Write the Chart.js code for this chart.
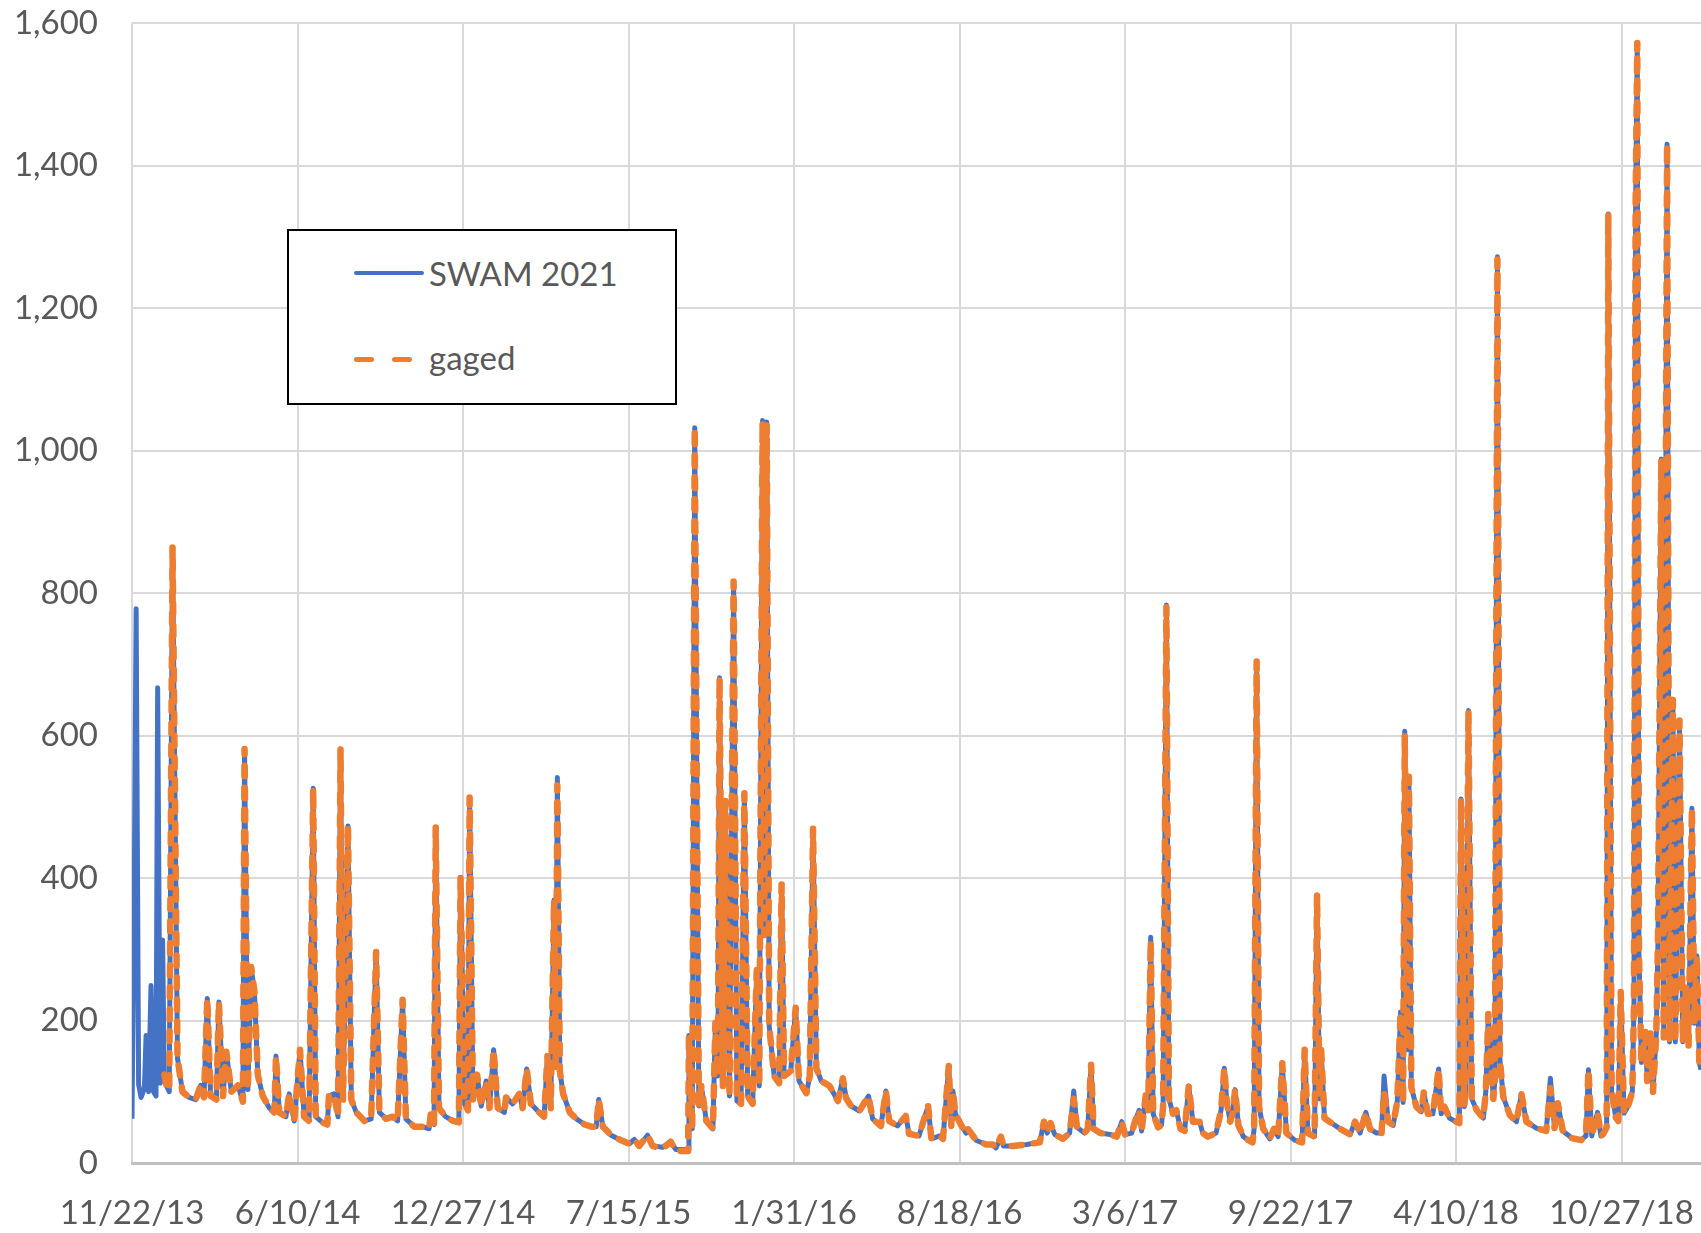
<!DOCTYPE html>
<html>
<head>
<meta charset="utf-8">
<script src="https://cdn.jsdelivr.net/npm/chart.js@4.4.1/dist/chart.umd.min.js"></script>
<style>
  body { margin: 0; background: #fff; }
  #wrap { position: relative; width: 1701px; height: 1233px; }
  .legend {
    position: absolute; left: 287px; top: 229px; width: 386px; height: 172px;
    border: 2px solid #000; background: #fff;
    font-family: Lato, sans-serif; font-size: 33px; color: #595959;
  }
  .legend .txt { position: absolute; left: 140px; height: 40px; line-height: 40px; white-space: nowrap; }
  .legend .blue { position: absolute; left: 65px; width: 70px; height: 4px; background: #4472C4; border-radius: 2px; }
  .legend .dash { position: absolute; width: 20px; height: 5px; background: #ED7D31; border-radius: 3px; }
</style>
</head>
<body>
<div id="wrap">
  <canvas id="flowChart" width="1701" height="1233"></canvas>
  <div class="legend">
    <div class="blue" style="top:40px"></div>
    <div class="txt" style="top:22px">SWAM 2021</div>
    <div class="dash" style="left:65px; top:126px"></div>
    <div class="dash" style="left:103px; top:126px"></div>
    <div class="txt" style="top:106px">gaged</div>
  </div>
</div>
<script>
// x = days since 11/22/13, y = flow
const tickLabels = ['11/22/13', '6/10/14', '12/27/14', '7/15/15', '1/31/16', '8/18/16', '3/6/17', '9/22/17', '4/10/18', '10/27/18'];
const tickStep = 200;
const lastDay = 1896;
const yTickValues = [0, 200, 400, 600, 800, 1000, 1200, 1400, 1600];

const swam = [
  [0,62],[3,420],[5,778],[8,110],[11,92],[15,105],[17,179],[20,100],[23,249],[26,100],[29,94],[31,667],[34,112],[37,313],[39,115],[45,100],
  [49,864],[55,147],[61,100],[69,92],[77,89],[83,109],[87,92],[91,231],[95,94],[102,89],[105,226],[110,94],[114,156],[120,100],[128,109],
  [134,86],[136,581],[140,103],[144,275],[148,240],[152,124],[158,94],[166,77],[172,71],[174,150],[178,71],[186,65],[190,97],[196,59],
  [203,159],[208,65],[214,59],[219,526],[222,65],[230,57],[236,54],[238,94],[244,97],[249,65],[252,581],[255,89],[261,473],[265,89],
  [271,71],[281,59],[289,62],[295,296],[299,71],[307,62],[315,65],[321,59],[327,229],[331,62],[341,51],[351,51],[359,48],[361,68],
  [365,54],[367,471],[371,77],[379,65],[388,59],[395,57],[397,401],[402,83],[406,74],[408,513],[412,89],[417,124],[422,80],[428,115],
  [432,77],[437,159],[442,77],[450,71],[452,92],[460,83],[468,97],[472,77],[477,132],[482,83],[492,71],[498,65],[502,150],[506,77],
  [510,369],[512,135],[514,541],[517,129],[521,97],[529,71],[537,62],[547,54],[555,51],[561,51],[564,89],[569,51],[579,39],[589,33],
  [601,27],[607,33],[613,24],[623,39],[629,24],[641,22],[651,30],[657,19],[672,19],[673,179],[677,48],[680,1032],[685,80],[688,108],
  [694,59],[702,48],[705,197],[708,122],[710,681],[714,108],[717,508],[722,94],[727,816],[731,87],[736,83],[740,519],[744,94],[750,83],
  [755,271],[758,108],[762,1042],[764,320],[767,1040],[770,193],[776,122],[782,112],[785,391],[788,122],[796,129],[802,218],[806,115],
  [815,98],[819,122],[823,469],[827,133],[833,115],[843,108],[853,87],[859,119],[863,91],[869,80],[879,73],[890,94],[895,62],[905,52],
  [911,101],[915,59],[925,52],[935,66],[939,41],[951,38],[962,80],[966,34],[976,38],[980,34],[987,136],[990,52],[992,101],[995,69],
  [1002,53],[1008,42],[1010,48],[1020,32],[1032,26],[1040,26],[1044,21],[1050,37],[1053,24],[1065,24],[1081,26],[1097,29],[1102,58],
  [1106,42],[1110,56],[1115,40],[1125,34],[1133,42],[1138,101],[1142,50],[1151,42],[1155,48],[1159,138],[1162,48],[1170,42],[1182,40],
  [1190,37],[1196,58],[1200,40],[1208,42],[1212,58],[1217,74],[1220,45],[1225,95],[1228,74],[1231,317],[1234,69],[1240,50],[1244,53],
  [1246,79],[1250,783],[1253,90],[1258,69],[1262,74],[1267,48],[1272,45],[1277,108],[1282,58],[1290,58],[1294,42],[1300,37],[1310,42],
  [1316,74],[1320,133],[1323,85],[1327,58],[1330,69],[1333,103],[1337,53],[1343,37],[1349,32],[1354,29],[1356,48],[1359,704],[1362,79],
  [1367,48],[1375,34],[1380,48],[1385,37],[1390,140],[1395,42],[1405,32],[1414,29],[1417,159],[1421,42],[1429,37],[1432,376],[1435,90],
  [1437,159],[1441,63],[1447,58],[1460,48],[1472,40],[1478,58],[1484,42],[1491,71],[1496,48],[1504,42],[1510,42],[1513,122],[1518,58],
  [1524,53],[1529,87],[1533,212],[1536,85],[1538,606],[1541,159],[1543,542],[1546,106],[1552,79],[1558,72],[1561,99],[1566,69],[1572,69],
  [1579,132],[1582,69],[1586,79],[1592,63],[1600,58],[1604,56],[1606,511],[1610,79],[1612,95],[1615,635],[1619,90],[1625,74],[1633,63],
  [1636,101],[1639,209],[1645,90],[1647,116],[1650,1272],[1653,145],[1657,93],[1665,67],[1673,58],[1679,97],[1685,58],[1697,49],[1709,45],
  [1714,119],[1719,49],[1723,84],[1729,45],[1740,35],[1751,32],[1757,38],[1760,131],[1764,38],[1771,71],[1775,38],[1778,41],[1782,50],
  [1784,1332],[1788,100],[1793,64],[1796,59],[1799,240],[1803,70],[1808,80],[1813,100],[1815,223],[1817,1345],[1819,1572],[1821,295],
  [1824,141],[1829,184],[1831,115],[1835,182],[1838,100],[1842,182],[1844,312],[1848,988],[1851,176],[1855,1430],[1858,170],[1862,650],
  [1865,170],[1870,621],[1874,170],[1878,246],[1881,165],[1885,498],[1888,196],[1891,291],[1894,140],[1896,131]
];

// gaged record starts a little later
const gaged = [
  [39,124],[42,106],[45,102],
  [49,864],[55,147],[61,100],[69,92],[77,89],[83,109],[87,92],[91,231],[95,94],[102,89],[105,226],[110,94],[114,156],[120,100],[128,109],
  [134,86],[136,581],[140,103],[144,275],[148,240],[152,124],[158,94],[166,77],[172,71],[174,150],[178,71],[186,65],[190,97],[196,59],
  [203,159],[208,65],[214,59],[219,526],[222,65],[230,57],[236,54],[238,94],[244,97],[249,65],[252,581],[255,89],[261,473],[265,89],
  [271,71],[281,59],[289,62],[295,296],[299,71],[307,62],[315,65],[321,59],[327,229],[331,62],[341,51],[351,51],[359,48],[361,68],
  [365,54],[367,471],[371,77],[379,65],[388,59],[395,57],[397,401],[402,83],[406,74],[408,513],[412,89],[417,124],[422,80],[428,115],
  [432,77],[437,159],[442,77],[450,71],[452,92],[460,83],[468,97],[472,77],[477,132],[482,83],[492,71],[498,65],[502,150],[506,77],
  [510,369],[512,135],[514,530],[517,129],[521,97],[529,71],[537,62],[547,54],[555,51],[561,51],[564,89],[569,51],[579,39],[589,33],
  [601,27],[607,33],[613,24],[623,39],[629,24],[641,20],[651,30],[657,17],[672,17],[673,179],[677,48],[680,1032],[685,80],[688,108],
  [694,59],[702,48],[705,197],[708,122],[710,681],[714,108],[717,508],[722,94],[727,816],[731,87],[736,83],[740,519],[744,94],[750,83],
  [755,271],[758,108],[762,1040],[764,320],[767,1035],[770,193],[776,122],[782,112],[785,391],[788,122],[796,129],[802,218],[806,115],
  [815,98],[819,122],[823,469],[827,133],[833,115],[843,108],[853,87],[859,119],[863,91],[869,80],[879,73],[890,94],[895,62],[905,52],
  [911,101],[915,59],[925,52],[935,66],[939,41],[951,38],[962,80],[966,34],[976,38],[980,34],[987,136],[990,52],[992,101],[995,69],
  [1002,53],[1008,42],[1010,48],[1020,32],[1032,26],[1040,26],[1044,21],[1050,37],[1053,24],[1065,24],[1081,26],[1097,29],[1102,58],
  [1106,42],[1110,56],[1115,40],[1125,34],[1133,42],[1138,90],[1142,50],[1151,42],[1155,48],[1159,138],[1162,48],[1170,42],[1182,40],
  [1190,37],[1196,58],[1200,40],[1208,42],[1212,58],[1217,74],[1220,45],[1225,95],[1228,74],[1231,312],[1234,69],[1240,50],[1244,53],
  [1246,79],[1250,780],[1253,90],[1258,69],[1262,74],[1267,48],[1272,45],[1277,108],[1282,58],[1290,58],[1294,42],[1300,37],[1310,42],
  [1316,74],[1320,133],[1323,85],[1327,58],[1330,69],[1333,103],[1337,53],[1343,37],[1349,32],[1354,29],[1356,48],[1359,704],[1362,79],
  [1367,48],[1375,34],[1380,48],[1385,37],[1390,140],[1395,42],[1405,32],[1414,29],[1417,159],[1421,42],[1429,37],[1432,376],[1435,90],
  [1437,159],[1441,63],[1447,58],[1460,48],[1472,40],[1478,58],[1484,42],[1491,71],[1496,48],[1504,42],[1510,42],[1513,100],[1518,58],
  [1524,53],[1529,87],[1533,212],[1536,85],[1538,600],[1541,159],[1543,542],[1546,106],[1552,79],[1558,72],[1561,99],[1566,69],[1572,69],
  [1579,132],[1582,69],[1586,79],[1592,63],[1600,58],[1604,56],[1606,511],[1610,79],[1612,145],[1615,635],[1619,90],[1625,74],[1633,63],
  [1636,101],[1639,209],[1645,90],[1647,116],[1650,1268],[1653,145],[1657,93],[1665,67],[1673,58],[1679,97],[1685,58],[1697,49],[1709,45],
  [1714,105],[1719,49],[1723,84],[1729,45],[1740,35],[1751,32],[1757,38],[1760,131],[1764,38],[1771,71],[1775,38],[1778,41],[1782,50],
  [1784,1332],[1788,100],[1793,64],[1796,59],[1799,240],[1803,70],[1808,80],[1813,100],[1815,223],[1817,1345],[1819,1572],[1821,295],
  [1824,141],[1829,184],[1831,115],[1835,182],[1838,100],[1842,182],[1844,312],[1848,988],[1851,176],[1855,1430],[1858,170],[1862,650],
  [1865,170],[1870,621],[1874,170],[1878,246],[1881,165],[1885,498],[1888,196],[1891,291],[1894,140],[1896,131]
];

const toPoints = arr => arr.map(p => ({ x: p[0], y: p[1] }));

Chart.defaults.font.family = 'Lato, sans-serif';
Chart.defaults.color = '#595959';

let ctx = document.getElementById('flowChart').getContext('2d');

new Chart(ctx, {
    type: 'line',
    data: {
        datasets: [{
            label: 'SWAM 2021',
            data: toPoints(swam),
            borderColor: '#4472C4',
            borderWidth: 5,
            borderJoinStyle: 'round',
            pointRadius: 0,
            order: 2
        }, {
            label: 'gaged',
            data: toPoints(gaged),
            borderColor: '#ED7D31',
            borderWidth: 6.5,
            borderDash: [10, 12],
            borderCapStyle: 'round',
            borderJoinStyle: 'round',
            pointRadius: 0,
            order: 1
        }]
    },
    options: {
        responsive: false,
        animation: false,
        devicePixelRatio: 1,
        layout: { padding: { top: 23, right: 0, bottom: 0, left: 0 } },
        plugins: {
            legend: { display: false },
            tooltip: { enabled: false }
        },
        scales: {
            x: {
                type: 'linear',
                min: 0,
                max: lastDay,
                afterBuildTicks: scale => {
                    scale.ticks = tickLabels.map((t, i) => ({ value: i * tickStep }));
                },
                afterFit: scale => {
                    scale.height = 70;
                    scale.paddingLeft = 0;
                    scale.paddingRight = 0;
                },
                ticks: {
                    autoSkip: false,
                    maxRotation: 0,
                    padding: 31,
                    font: { size: 33 },
                    callback: value => tickLabels[Math.round(value / tickStep)] || ''
                },
                grid: { color: '#d9d9d9', lineWidth: 2, drawTicks: false },
                border: { color: '#bfbfbf', width: 3 }
            },
            y: {
                min: 0,
                max: 1600,
                afterBuildTicks: scale => {
                    scale.ticks = yTickValues.map(v => ({ value: v }));
                },
                afterFit: scale => {
                    scale.width = 132;
                    scale.paddingTop = 0;
                    scale.paddingBottom = 0;
                },
                ticks: {
                    padding: 34,
                    font: { size: 33 },
                    callback: value => value.toLocaleString('en-US')
                },
                grid: { color: '#d9d9d9', lineWidth: 2, drawTicks: false },
                border: { display: false }
            }
        }
    }
});
</script>
</body>
</html>
